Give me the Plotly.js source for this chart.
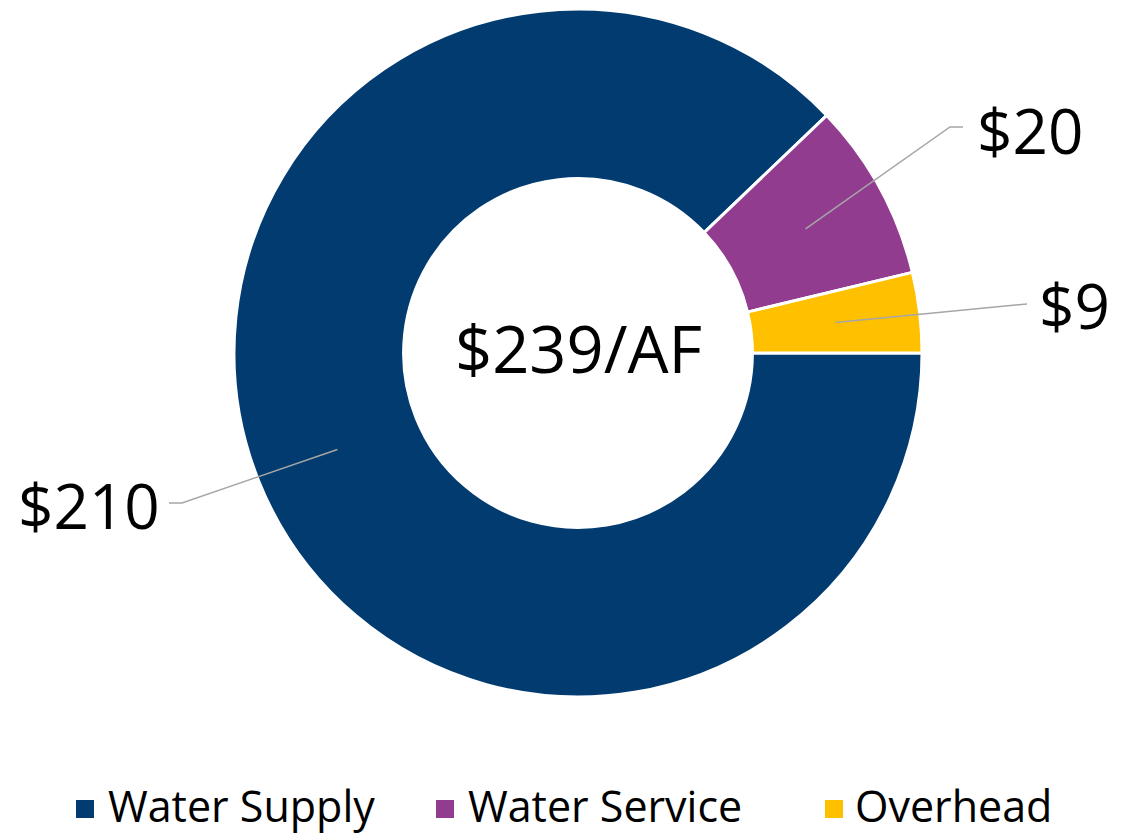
<!DOCTYPE html>
<html>
<head>
<meta charset="utf-8">
<script src="https://cdn.plot.ly/plotly-3.0.1.min.js"></script>
<style>html,body{margin:0;padding:0;background:#fff}#chart{width:1140px;height:836px}</style>
</head>
<body>
<div id="chart"></div>
<script>
// ---- data ----
const categories = ["Water Supply", "Water Service", "Overhead"];
const values = [210, 20, 9];
const colors = ["#023B70", "#923C8F", "#FFC000"];
const unitLabel = "/AF";

// ---- layout helpers ----
const W = 1140, H = 836;
const FONT = "Open Sans, Lato, sans-serif";
const cx = 578, cy = 353, rOut = 344, holeFrac = 0.507;
const px = x => x / W;
const py = y => 1 - y / H;

// label positions (pixels): text centre, elbow point, line end
const labelLayout = [
  {tx: 89,  ty: 505, elbow: [182, 503], end: [169, 503]},
  {tx: 1030, ty: 130, elbow: [950, 127], end: [963, 127]},
  {tx: 1074, ty: 305, elbow: [1027, 304], end: [1027, 304]}
];
// legend entry positions (pixels): square left edge, text left edge
const legendLayout = [
  {sx: 76, tx: 107},
  {sx: 436, tx: 467},
  {sx: 825, tx: 854}
];
const legendY = 809, legendSq = 18;

const total = values.reduce((a, b) => a + b, 0);
const shapes = [];
const annotations = [];
let startDeg = 90; // clockwise from 12 o'clock
const rMid = rOut * (1 + holeFrac) / 2;
values.forEach((v, i) => {
  const span = v / total * 360;
  const mid = startDeg + span / 2;
  startDeg += span;
  const a = (90 - mid) * Math.PI / 180;
  const ix = cx + rMid * Math.cos(a), iy = cy - rMid * Math.sin(a);
  const L = labelLayout[i];
  shapes.push({
    type: "path", xref: "paper", yref: "paper",
    path: `M${px(ix)},${py(iy)} L${px(L.elbow[0])},${py(L.elbow[1])} L${px(L.end[0])},${py(L.end[1])}`,
    line: {color: "#A6A6A6", width: 1.5}
  });
  annotations.push({
    xref: "paper", yref: "paper", x: px(L.tx), y: py(L.ty),
    xanchor: "center", yanchor: "middle", showarrow: false,
    text: "$" + v, font: {family: FONT, size: 62, color: "#000"}
  });
});
annotations.push({
  xref: "paper", yref: "paper", x: px(cx), y: py(348),
  xanchor: "center", yanchor: "middle", showarrow: false,
  text: "$" + total + unitLabel, font: {family: FONT, size: 65, color: "#000"}
});

// legend (drawn as shapes + text so spacing matches)
categories.forEach((c, i) => {
  const L = legendLayout[i];
  shapes.push({
    type: "rect", xref: "paper", yref: "paper",
    x0: px(L.sx), x1: px(L.sx + legendSq),
    y0: py(legendY - legendSq / 2), y1: py(legendY + legendSq / 2),
    fillcolor: colors[i], line: {width: 0}
  });
  annotations.push({
    xref: "paper", yref: "paper", x: px(L.tx), y: 0,
    xanchor: "left", yanchor: "bottom", showarrow: false, borderpad: 0,
    text: c, font: {family: FONT, size: 43, color: "#000"}
  });
});

const trace = {
  type: "pie",
  labels: categories,
  values: values,
  hole: holeFrac,
  sort: false,
  direction: "clockwise",
  rotation: 90,
  textinfo: "none",
  hoverinfo: "label+value",
  marker: {colors: colors, line: {color: "#fff", width: 3}},
  domain: {x: [px(cx - rOut), px(cx + rOut)], y: [py(cy + rOut), py(cy - rOut)]}
};

const layout = {
  width: W, height: H,
  margin: {l: 0, r: 0, t: 0, b: 0},
  paper_bgcolor: "#fff",
  showlegend: false,
  shapes: shapes,
  annotations: annotations
};

Plotly.newPlot("chart", [trace], layout, {displayModeBar: false, staticPlot: true});
</script>
</body>
</html>
